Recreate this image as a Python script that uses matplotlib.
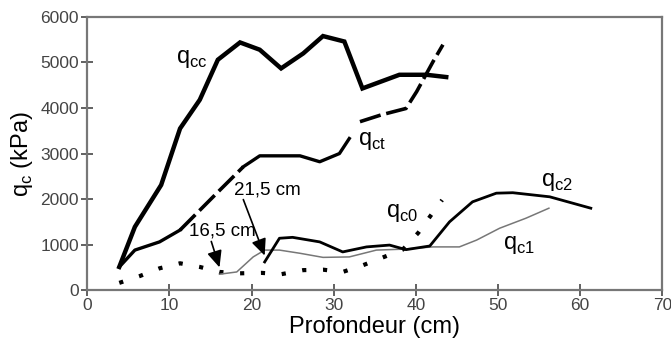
"""Cone resistance profiles q_c versus depth."""
import matplotlib.pyplot as plt

plt.rcParams["font.family"] = ["Liberation Sans", "DejaVu Sans"]
plt.rcParams["mathtext.fontset"] = "custom"
plt.rcParams["mathtext.rm"] = "Liberation Sans"

# Depth (cm) and cone resistance (kPa)
qcc_x = [3.9, 5.8, 9.0, 11.3, 13.7, 15.9, 18.6, 21.0, 23.6, 26.3, 28.7,
         31.3, 33.5, 38.0, 41.3, 43.7]
qcc_y = [510, 1390, 2310, 3550, 4180, 5060, 5440, 5280, 4870, 5200, 5580,
         5460, 4430, 4730, 4730, 4680]

qct_x = [3.9, 5.8, 8.8, 11.3, 16.1, 19.0, 21.0, 25.9, 28.3, 30.7, 31.9,
         33.2, 35.8, 38.8, 40.1, 42.1, 43.3]
qct_y = [510, 880, 1060, 1320, 2190, 2710, 2950, 2950, 2820, 3000, 3330,
         3700, 3850, 3990, 4360, 5020, 5390]

qc0_x = [3.9, 6.4, 8.8, 11.3, 13.7, 16.1, 18.6, 21.2, 23.6, 26.3, 28.7,
         31.1, 33.6, 36.0, 38.4, 40.3, 41.7, 43.2]
qc0_y = [160, 310, 480, 590, 510, 400, 370, 380, 350, 440, 450, 400, 550,
         720, 890, 1260, 1610, 1980]

qc1_x = [16.1, 18.2, 20.2, 21.6, 23.4, 25.9, 28.7, 31.9, 35.2, 38.4, 42.1,
         45.3, 47.4, 50.2, 53.4, 56.2]
qc1_y = [350, 400, 730, 880, 880, 810, 720, 730, 880, 900, 950, 950, 1100,
         1360, 1580, 1800]

qc2_x = [21.6, 23.4, 25.0, 28.3, 31.1, 34.0, 36.8, 38.8, 41.7, 44.1, 46.9,
         49.8, 51.8, 56.3, 61.3]
qc2_y = [620, 1140, 1160, 1060, 840, 950, 990, 890, 970, 1500, 1940, 2130,
         2140, 2050, 1800]

x_ticks = [0, 10, 20, 30, 40, 50, 60, 70]
y_ticks = [0, 1000, 2000, 3000, 4000, 5000, 6000]

fig = plt.figure(figsize=(6.71, 3.53), dpi=100)
ax = fig.add_axes([0.130, 0.178, 0.857, 0.774])

# q_cc: heavy solid line
ax.plot(qcc_x, qcc_y, color="black", lw=3.2, solid_joinstyle="miter")

# q_ct: alternating solid / dashed pieces
dash = (0, (6, 1.6))
ax.plot(qct_x[0:4], qct_y[0:4], color="black", lw=2.4)
ax.plot(qct_x[3:6], qct_y[3:6], color="black", lw=2.6, ls=dash)
ax.plot(qct_x[5:11], qct_y[5:11], color="black", lw=2.4)
ax.plot(qct_x[11:], qct_y[11:], color="black", lw=2.6, ls=dash)

# q_c0: dotted squares
ax.plot(qc0_x, qc0_y, color="black", lw=3, ls=(0, (1, 4)),
        dash_capstyle="butt")

# q_c1: thin grey, q_c2: medium black
ax.plot(qc1_x, qc1_y, color="#777777", lw=1.1)
ax.plot(qc2_x, qc2_y, color="black", lw=2.0)

# Curve labels
lab = dict(fontsize=17, va="center", ha="left")
ax.text(10.8, 5080, r"q$_{\mathrm{cc}}$", **lab)
ax.text(32.9, 3280, r"q$_{\mathrm{ct}}$", **lab)
ax.text(36.4, 1700, r"q$_{\mathrm{c0}}$", **lab)
ax.text(50.6, 990, r"q$_{\mathrm{c1}}$", **lab)
ax.text(55.2, 2380, r"q$_{\mathrm{c2}}$", **lab)

# Arrows to the start depths
arrow = dict(arrowstyle="-|>,head_length=1.0,head_width=0.45",
             color="black", lw=1.2, shrinkA=0, shrinkB=0)
ax.text(12.4, 1290, "16,5 cm", fontsize=13.5, ha="left", va="center")
ax.annotate("", xy=(16.1, 500), xytext=(15.1, 1070), arrowprops=arrow)
ax.text(17.9, 2190, "21,5 cm", fontsize=13.5, ha="left", va="center")
ax.annotate("", xy=(21.6, 760), xytext=(19.0, 1990), arrowprops=arrow)

ax.set_xlim(0, 70)
ax.set_ylim(0, 6000)
ax.set_xticks(x_ticks)
ax.set_yticks(y_ticks)
ax.tick_params(direction="inout", length=8, width=1.3, color="#555555",
               labelsize=12.5, labelcolor="#444444", pad=2)
for s in ax.spines.values():
    s.set_color("#777777")
    s.set_linewidth(1.6)

ax.set_xlabel("Profondeur (cm)", fontsize=17, labelpad=2)
ax.set_ylabel(r"q$_{\mathrm{c}}$ (kPa)", fontsize=17, labelpad=4)

fig.savefig("out.png", dpi=100)
